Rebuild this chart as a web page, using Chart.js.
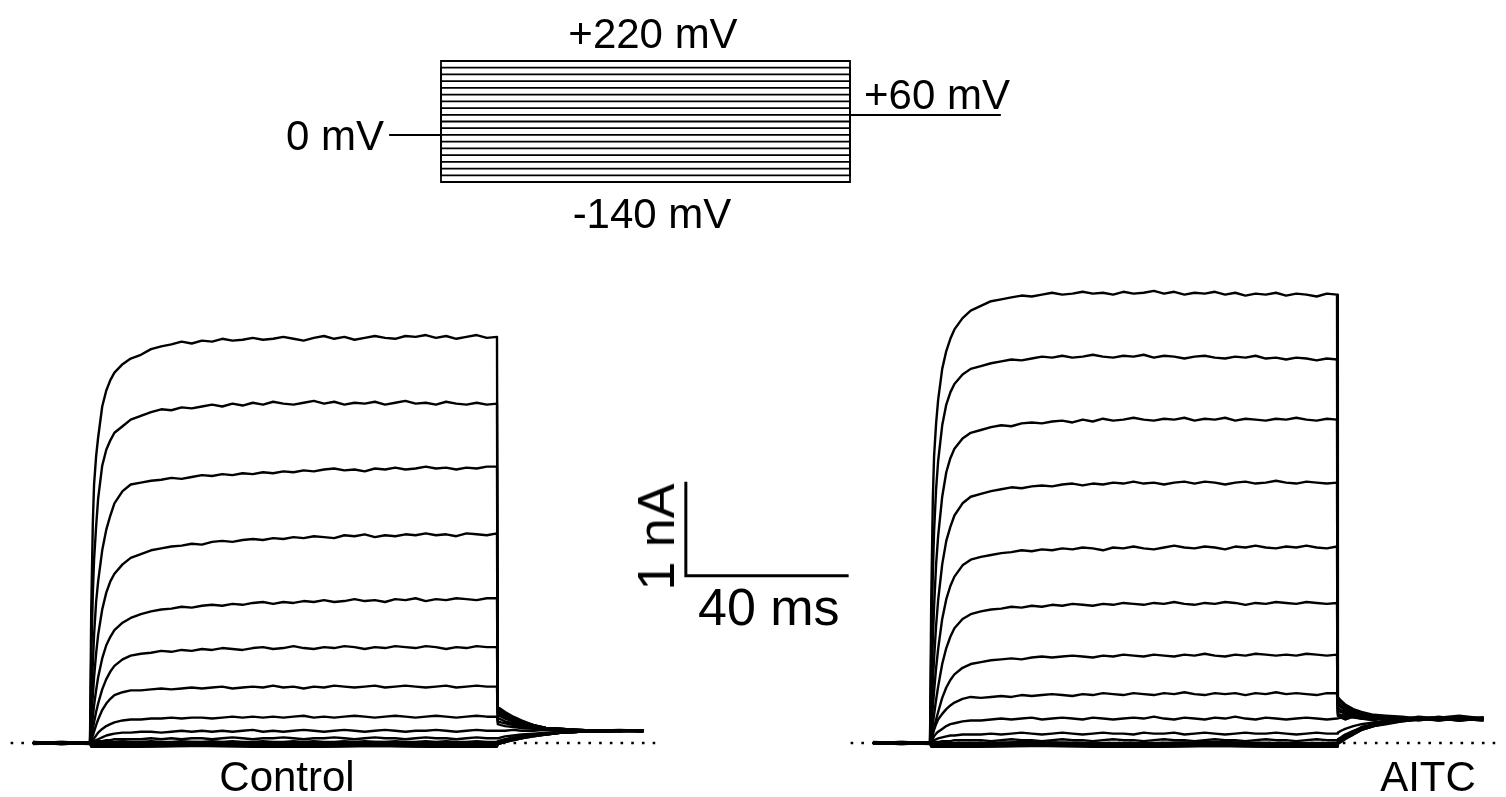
<!DOCTYPE html>
<html>
<head>
<meta charset="utf-8">
<script src="https://cdn.jsdelivr.net/npm/chart.js@4.4.0/dist/chart.umd.min.js"></script>
<style>
  html, body { margin: 0; padding: 0; background: #fff; }
  body { width: 1506px; height: 797px; position: relative; overflow: hidden;
         font-family: "Liberation Sans", Arial, sans-serif; color: #000; }
  canvas { position: absolute; }
  .lbl { position: absolute; white-space: nowrap; line-height: 1; }
</style>
</head>
<body>
<canvas id="protocol" width="640" height="170" style="left:380px;top:40px"></canvas>
<canvas id="control" width="860" height="537" style="left:0px;top:260px"></canvas>
<canvas id="aitc" width="666" height="537" style="left:840px;top:260px"></canvas>

<div class="lbl" id="lblTop" style="font-size:42px;left:653px;top:12.5px;transform:translateX(-50%)"></div>
<div class="lbl" id="lblBottom" style="font-size:42px;left:652px;top:192.5px;transform:translateX(-50%)"></div>
<div class="lbl" id="lblTail" style="font-size:42px;left:864px;top:73.5px"></div>
<div class="lbl" id="lblHold" style="font-size:42px;right:1122px;top:114.5px"></div>
<div class="lbl" id="lblCurrent" style="font-size:52px;left:655.5px;top:536.5px;transform:translate(-50%,-50%) rotate(-90deg)"></div>
<div class="lbl" id="lblTime" style="font-size:52px;left:698px;top:581px"></div>
<div class="lbl" id="lblControl" style="font-size:42px;left:287px;top:755.5px;transform:translateX(-50%)"></div>
<div class="lbl" id="lblAitc" style="font-size:42px;left:1428px;top:755.5px;transform:translateX(-50%)"></div>

<script>
// ---- voltage protocol (mV) ----
const stepMv = [-140, -120, -100, -80, -60, -40, -20, 0, 20, 40, 60, 80, 100, 120, 140, 160, 180, 200, 220];
const holdMv = 0;
const tailMv = 60;
// holding start, step on, step on, step off, step off, sweep end (ms)
const protocolTimeMs = [-12.5, 0, 0, 100, 100, 136.7];

// ---- current sweeps (nA) ----
const sweepTimeMs = [
  -14, -7, 0,
  0.3, 0.7, 1, 1.5, 2, 3, 4, 5, 6, 8, 10,
  12.5, 15, 17.5, 20, 22.5, 25, 27.5, 30, 32.5, 35, 37.5, 40,
  42.5, 45, 47.5, 50, 52.5, 55, 57.5, 60, 62.5, 65, 67.5, 70,
  72.5, 75, 77.5, 80, 82.5, 85, 87.5, 90, 92.5, 95, 97.5, 100,
  100.2, 101, 102, 104, 106, 109, 112, 116, 120, 125, 130, 136
];
const flatTimeMs = [-14, -7, 0, 0.3, 10, 25, 40, 55, 70, 85, 100,
  100.2, 101, 102, 104, 106, 109, 112, 116, 120, 125, 130, 136];

// Control
const ctrlP220 = [0.01, -0.01, 0,
  1.4, 2.35, 2.75, 3.05, 3.25, 3.58, 3.75, 3.86, 3.94, 4.03, 4.09,
  4.13, 4.19, 4.22, 4.24, 4.27, 4.25, 4.28, 4.27, 4.30, 4.28, 4.29, 4.31,
  4.29, 4.30, 4.32, 4.30, 4.28, 4.31, 4.33, 4.30, 4.32, 4.29, 4.31, 4.33,
  4.31, 4.30, 4.33, 4.32, 4.34, 4.31, 4.33, 4.30, 4.32, 4.34, 4.31, 4.32,
  0.38, 0.36, 0.33, 0.28, 0.24, 0.19, 0.16, 0.15, 0.14, 0.13, 0.14, 0.13];
const ctrlP200 = [0, 0.01, 0,
  0.9, 1.6, 1.95, 2.3, 2.6, 2.95, 3.12, 3.22, 3.3, 3.37, 3.44,
  3.48, 3.52, 3.55, 3.54, 3.57, 3.56, 3.58, 3.60, 3.58, 3.61, 3.59, 3.62,
  3.60, 3.63, 3.61, 3.60, 3.62, 3.64, 3.61, 3.63, 3.60, 3.62, 3.61, 3.63,
  3.60, 3.62, 3.64, 3.61, 3.62, 3.60, 3.63, 3.61, 3.60, 3.62, 3.60, 3.61,
  0.36, 0.34, 0.31, 0.27, 0.23, 0.19, 0.16, 0.15, 0.14, 0.13, 0.13, 0.13];
const ctrlP180 = [0, -0.01, 0,
  0.4, 0.85, 1.15, 1.5, 1.72, 2.05, 2.27, 2.42, 2.55, 2.68, 2.75,
  2.77, 2.79, 2.80, 2.82, 2.81, 2.83, 2.85, 2.84, 2.86, 2.85, 2.87, 2.86,
  2.88, 2.87, 2.89, 2.88, 2.90, 2.89, 2.91, 2.92, 2.90, 2.91, 2.89, 2.92,
  2.91, 2.93, 2.91, 2.92, 2.94, 2.92, 2.93, 2.91, 2.93, 2.92, 2.94, 2.94,
  0.34, 0.32, 0.3, 0.26, 0.22, 0.19, 0.16, 0.15, 0.14, 0.13, 0.13, 0.12];
const ctrlP160 = [0, 0, 0.01,
  0.25, 0.5, 0.7, 0.95, 1.15, 1.42, 1.6, 1.72, 1.8, 1.9, 1.97,
  2.01, 2.05, 2.07, 2.09, 2.10, 2.12, 2.11, 2.14, 2.15, 2.14, 2.16, 2.17,
  2.16, 2.18, 2.17, 2.19, 2.18, 2.20, 2.19, 2.18, 2.21, 2.20, 2.22, 2.19,
  2.21, 2.20, 2.22, 2.21, 2.23, 2.21, 2.22, 2.20, 2.23, 2.22, 2.21, 2.23,
  0.32, 0.3, 0.28, 0.24, 0.21, 0.18, 0.16, 0.15, 0.14, 0.13, 0.12, 0.13];
const ctrlP140 = [0, 0.01, 0,
  0.12, 0.28, 0.4, 0.56, 0.7, 0.9, 1.04, 1.13, 1.2, 1.28, 1.33,
  1.37, 1.40, 1.42, 1.43, 1.45, 1.44, 1.46, 1.47, 1.46, 1.48, 1.47, 1.49,
  1.50, 1.48, 1.50, 1.49, 1.51, 1.50, 1.52, 1.50, 1.51, 1.53, 1.51, 1.52,
  1.50, 1.53, 1.52, 1.54, 1.51, 1.53, 1.52, 1.54, 1.53, 1.52, 1.54, 1.54,
  0.29, 0.28, 0.26, 0.23, 0.2, 0.18, 0.16, 0.15, 0.14, 0.13, 0.13, 0.13];
const ctrlP120 = [-0.01, 0, 0,
  0.06, 0.15, 0.22, 0.33, 0.42, 0.57, 0.68, 0.76, 0.82, 0.89, 0.93,
  0.95, 0.96, 0.98, 0.97, 0.99, 0.98, 1.00, 0.99, 1.01, 1.00, 0.99, 1.01,
  1.02, 1.00, 1.01, 1.03, 1.01, 1.00, 1.02, 1.01, 1.03, 1.02, 1.00, 1.02,
  1.01, 1.03, 1.02, 1.01, 1.03, 1.02, 1.00, 1.02, 1.01, 1.03, 1.02, 1.02,
  0.26, 0.25, 0.23, 0.21, 0.19, 0.17, 0.15, 0.14, 0.14, 0.13, 0.13, 0.12];
const ctrlP100 = [0, 0, -0.01,
  0.03, 0.08, 0.12, 0.19, 0.25, 0.35, 0.42, 0.47, 0.51, 0.54, 0.56,
  0.56, 0.57, 0.58, 0.57, 0.58, 0.59, 0.58, 0.59, 0.60, 0.58, 0.59, 0.60,
  0.59, 0.61, 0.59, 0.60, 0.58, 0.60, 0.59, 0.61, 0.60, 0.59, 0.60, 0.61,
  0.59, 0.60, 0.61, 0.60, 0.59, 0.60, 0.61, 0.59, 0.60, 0.61, 0.60, 0.60,
  0.23, 0.22, 0.21, 0.19, 0.17, 0.16, 0.15, 0.14, 0.13, 0.13, 0.13, 0.13];
const ctrlP80 = [0.01, 0, 0,
  0.01, 0.03, 0.05, 0.08, 0.11, 0.15, 0.18, 0.2, 0.22, 0.24, 0.25,
  0.25, 0.26, 0.26, 0.27, 0.26, 0.27, 0.27, 0.26, 0.27, 0.28, 0.27, 0.28,
  0.27, 0.28, 0.27, 0.28, 0.29, 0.27, 0.28, 0.27, 0.28, 0.29, 0.28, 0.27,
  0.28, 0.29, 0.28, 0.27, 0.28, 0.29, 0.28, 0.27, 0.28, 0.29, 0.28, 0.28,
  0.2, 0.19, 0.18, 0.17, 0.16, 0.15, 0.14, 0.14, 0.13, 0.13, 0.13, 0.13];
const ctrlP60 = [0, 0, 0,
  0, 0.01, 0.02, 0.03, 0.04, 0.06, 0.08, 0.09, 0.1, 0.11, 0.11,
  0.12, 0.12, 0.11, 0.12, 0.13, 0.12, 0.13, 0.12, 0.13, 0.12, 0.13, 0.14,
  0.12, 0.13, 0.12, 0.13, 0.14, 0.13, 0.12, 0.13, 0.14, 0.13, 0.12, 0.13,
  0.14, 0.13, 0.12, 0.13, 0.13, 0.14, 0.13, 0.12, 0.13, 0.14, 0.13, 0.13,
  0.13, 0.13, 0.13, 0.14, 0.13, 0.13, 0.14, 0.13, 0.13, 0.12, 0.13, 0.13];
const ctrlP40 = [0, -0.01, 0,
  0, 0, 0.01, 0.01, 0.02, 0.02, 0.03, 0.03, 0.04, 0.04, 0.04,
  0.04, 0.05, 0.04, 0.05, 0.04, 0.05, 0.05, 0.04, 0.05, 0.06, 0.05, 0.04,
  0.05, 0.05, 0.06, 0.05, 0.04, 0.05, 0.05, 0.06, 0.05, 0.04, 0.05, 0.06,
  0.05, 0.05, 0.04, 0.05, 0.06, 0.05, 0.05, 0.04, 0.05, 0.06, 0.05, 0.05,
  0.05, 0.06, 0.07, 0.08, 0.09, 0.1, 0.11, 0.12, 0.12, 0.13, 0.13, 0.13];
const ctrlP20 = [0, 0, 0,
  0, 0, 0, 0, 0.01, 0.01, 0.01, 0.01, 0.01, 0.02, 0.01,
  0.01, 0.02, 0.01, 0.01, 0.02, 0.01, 0.01, 0.02, 0.01, 0.02, 0.01, 0.01,
  0.02, 0.01, 0.01, 0.02, 0.01, 0.02, 0.01, 0.01, 0.02, 0.01, 0.02, 0.01,
  0.01, 0.02, 0.01, 0.01, 0.02, 0.01, 0.02, 0.01, 0.01, 0.02, 0.01, 0.01,
  0.02, 0.03, 0.04, 0.06, 0.07, 0.09, 0.1, 0.11, 0.12, 0.12, 0.13, 0.13];
const ctrlP0   = [0, 0, 0, 0, 0, 0.01, 0, 0, 0.01, 0, 0, 0.01, 0.02, 0.03, 0.05, 0.07, 0.09, 0.1, 0.11, 0.12, 0.13, 0.13, 0.13];
const ctrlM20  = [0, 0, 0, -0.01, -0.01, 0, -0.01, -0.01, 0, -0.01, -0.01, 0.01, 0.02, 0.03, 0.05, 0.07, 0.09, 0.1, 0.11, 0.12, 0.13, 0.13, 0.13];
const ctrlM40  = [0, 0, 0, -0.01, -0.02, -0.01, -0.02, -0.01, -0.02, -0.01, -0.02, 0, 0.01, 0.02, 0.04, 0.06, 0.08, 0.1, 0.11, 0.12, 0.13, 0.13, 0.13];
const ctrlM60  = [0, 0, 0, -0.02, -0.02, -0.01, -0.02, -0.02, -0.01, -0.02, -0.02, 0, 0.01, 0.02, 0.04, 0.06, 0.08, 0.1, 0.11, 0.12, 0.12, 0.13, 0.13];
const ctrlM80  = [0, 0, 0, -0.02, -0.03, -0.02, -0.02, -0.03, -0.02, -0.03, -0.02, -0.01, 0, 0.02, 0.04, 0.06, 0.08, 0.09, 0.11, 0.12, 0.12, 0.13, 0.13];
const ctrlM100 = [0, 0, 0, -0.03, -0.03, -0.02, -0.03, -0.03, -0.02, -0.03, -0.03, -0.01, 0, 0.02, 0.03, 0.05, 0.08, 0.09, 0.11, 0.12, 0.12, 0.13, 0.13];
const ctrlM120 = [0, 0, 0, -0.03, -0.04, -0.03, -0.03, -0.04, -0.03, -0.04, -0.03, -0.01, 0, 0.01, 0.03, 0.05, 0.07, 0.09, 0.11, 0.12, 0.12, 0.13, 0.13];
const ctrlM140 = [0, 0, 0, -0.04, -0.04, -0.03, -0.04, -0.04, -0.03, -0.04, -0.04, -0.01, 0, 0.01, 0.03, 0.05, 0.07, 0.09, 0.11, 0.12, 0.12, 0.13, 0.13];

// AITC
const aitcP220 = [0, 0.01, 0,
  1.5, 2.6, 3.05, 3.4, 3.65, 3.98, 4.17, 4.3, 4.4, 4.52, 4.6,
  4.65, 4.70, 4.72, 4.74, 4.76, 4.75, 4.77, 4.79, 4.77, 4.78, 4.80, 4.78,
  4.79, 4.77, 4.80, 4.78, 4.79, 4.81, 4.78, 4.80, 4.77, 4.79, 4.78, 4.80,
  4.77, 4.79, 4.76, 4.78, 4.77, 4.79, 4.76, 4.78, 4.77, 4.75, 4.78, 4.77,
  0.49, 0.45, 0.41, 0.36, 0.33, 0.3, 0.29, 0.28, 0.26, 0.27, 0.29, 0.26];
const aitcP200 = [0, 0, 0.01,
  1.0, 1.8, 2.25, 2.7, 3.0, 3.38, 3.6, 3.73, 3.82, 3.92, 3.98,
  4.01, 4.04, 4.06, 4.08, 4.07, 4.09, 4.11, 4.10, 4.12, 4.10, 4.11, 4.13,
  4.11, 4.10, 4.12, 4.11, 4.13, 4.10, 4.12, 4.11, 4.09, 4.11, 4.12, 4.10,
  4.09, 4.11, 4.10, 4.12, 4.09, 4.10, 4.08, 4.10, 4.09, 4.07, 4.09, 4.08,
  0.46, 0.43, 0.39, 0.35, 0.31, 0.29, 0.28, 0.27, 0.25, 0.28, 0.25, 0.27];
const aitcP180 = [0, -0.01, 0,
  0.55, 1.1, 1.45, 1.9, 2.2, 2.62, 2.88, 3.03, 3.13, 3.24, 3.3,
  3.33, 3.36, 3.38, 3.37, 3.40, 3.41, 3.40, 3.42, 3.43, 3.41, 3.44, 3.42,
  3.45, 3.43, 3.44, 3.46, 3.44, 3.43, 3.45, 3.44, 3.46, 3.43, 3.45, 3.44,
  3.46, 3.43, 3.45, 3.44, 3.43, 3.45, 3.44, 3.46, 3.44, 3.43, 3.45, 3.44,
  0.43, 0.4, 0.37, 0.33, 0.3, 0.28, 0.27, 0.26, 0.24, 0.27, 0.26, 0.24];
const aitcP160 = [0.01, 0, 0,
  0.3, 0.65, 0.9, 1.25, 1.52, 1.9, 2.15, 2.3, 2.42, 2.55, 2.62,
  2.65, 2.68, 2.70, 2.72, 2.71, 2.73, 2.74, 2.73, 2.75, 2.76, 2.74, 2.76,
  2.75, 2.77, 2.76, 2.78, 2.76, 2.77, 2.75, 2.77, 2.78, 2.76, 2.78, 2.77,
  2.75, 2.77, 2.78, 2.76, 2.77, 2.79, 2.77, 2.76, 2.78, 2.77, 2.76, 2.77,
  0.4, 0.38, 0.35, 0.31, 0.29, 0.27, 0.26, 0.27, 0.25, 0.26, 0.28, 0.26];
const aitcP140 = [0, 0, -0.01,
  0.15, 0.38, 0.55, 0.8, 1.0, 1.32, 1.53, 1.67, 1.77, 1.89, 1.95,
  1.98, 2.00, 2.02, 2.03, 2.05, 2.04, 2.06, 2.05, 2.07, 2.06, 2.08, 2.07,
  2.05, 2.08, 2.07, 2.09, 2.07, 2.06, 2.08, 2.10, 2.08, 2.07, 2.09, 2.08,
  2.06, 2.09, 2.08, 2.10, 2.08, 2.07, 2.09, 2.08, 2.10, 2.08, 2.07, 2.09,
  0.37, 0.35, 0.33, 0.3, 0.28, 0.27, 0.25, 0.26, 0.27, 0.24, 0.26, 0.27];
const aitcP120 = [0, 0.01, 0,
  0.08, 0.2, 0.3, 0.46, 0.6, 0.84, 1.01, 1.13, 1.22, 1.32, 1.37,
  1.40, 1.42, 1.43, 1.45, 1.44, 1.46, 1.45, 1.47, 1.46, 1.48, 1.47, 1.46,
  1.48, 1.47, 1.49, 1.48, 1.47, 1.49, 1.48, 1.50, 1.48, 1.47, 1.49, 1.48,
  1.50, 1.49, 1.47, 1.49, 1.48, 1.50, 1.49, 1.48, 1.50, 1.49, 1.48, 1.49,
  0.34, 0.33, 0.31, 0.29, 0.27, 0.26, 0.27, 0.25, 0.26, 0.27, 0.24, 0.26];
const aitcP100 = [0, 0, 0,
  0.04, 0.1, 0.16, 0.25, 0.33, 0.48, 0.59, 0.67, 0.73, 0.8, 0.84,
  0.86, 0.88, 0.89, 0.90, 0.89, 0.91, 0.92, 0.91, 0.92, 0.93, 0.92, 0.91,
  0.93, 0.92, 0.94, 0.93, 0.92, 0.94, 0.93, 0.92, 0.94, 0.93, 0.95, 0.93,
  0.92, 0.94, 0.93, 0.95, 0.94, 0.93, 0.94, 0.93, 0.95, 0.94, 0.93, 0.94,
  0.31, 0.3, 0.29, 0.27, 0.26, 0.27, 0.25, 0.26, 0.27, 0.25, 0.26, 0.27];
const aitcP80 = [0, -0.01, 0,
  0.04, 0.1, 0.14, 0.2, 0.25, 0.31, 0.36, 0.4, 0.43, 0.47, 0.49,
  0.48, 0.49, 0.50, 0.49, 0.51, 0.50, 0.51, 0.52, 0.51, 0.50, 0.52, 0.51,
  0.53, 0.52, 0.51, 0.53, 0.52, 0.51, 0.53, 0.52, 0.54, 0.52, 0.51, 0.53,
  0.52, 0.53, 0.51, 0.53, 0.52, 0.54, 0.52, 0.53, 0.52, 0.51, 0.53, 0.53,
  0.29, 0.28, 0.27, 0.28, 0.26, 0.25, 0.27, 0.26, 0.25, 0.27, 0.26, 0.25];
const aitcP60 = [0, 0, 0.01,
  0.02, 0.05, 0.07, 0.1, 0.12, 0.15, 0.18, 0.2, 0.21, 0.23, 0.24,
  0.24, 0.25, 0.26, 0.25, 0.26, 0.27, 0.25, 0.26, 0.27, 0.26, 0.25, 0.27,
  0.26, 0.25, 0.26, 0.27, 0.26, 0.28, 0.26, 0.25, 0.27, 0.26, 0.25, 0.27,
  0.26, 0.28, 0.26, 0.25, 0.27, 0.26, 0.25, 0.26, 0.27, 0.26, 0.25, 0.26,
  0.26, 0.27, 0.25, 0.28, 0.26, 0.24, 0.27, 0.25, 0.28, 0.26, 0.24, 0.26];
const aitcP40 = [0, 0, 0,
  0.01, 0.02, 0.03, 0.04, 0.05, 0.06, 0.07, 0.08, 0.08, 0.09, 0.09,
  0.09, 0.10, 0.09, 0.10, 0.11, 0.10, 0.09, 0.10, 0.11, 0.10, 0.09, 0.10,
  0.11, 0.10, 0.10, 0.09, 0.11, 0.10, 0.10, 0.11, 0.09, 0.10, 0.11, 0.10,
  0.09, 0.10, 0.11, 0.10, 0.10, 0.11, 0.10, 0.09, 0.10, 0.11, 0.10, 0.10,
  0.11, 0.13, 0.15, 0.18, 0.2, 0.22, 0.24, 0.25, 0.26, 0.27, 0.25, 0.26];
const aitcP20 = [0, 0, 0,
  0, 0, 0.01, 0.01, 0.01, 0.02, 0.02, 0.02, 0.03, 0.03, 0.03,
  0.03, 0.02, 0.03, 0.04, 0.03, 0.03, 0.02, 0.03, 0.04, 0.03, 0.03, 0.02,
  0.03, 0.04, 0.03, 0.03, 0.02, 0.03, 0.04, 0.03, 0.03, 0.02, 0.03, 0.04,
  0.03, 0.03, 0.02, 0.03, 0.04, 0.03, 0.03, 0.02, 0.03, 0.04, 0.03, 0.03,
  0.04, 0.06, 0.09, 0.13, 0.16, 0.19, 0.22, 0.24, 0.25, 0.26, 0.27, 0.25];
const aitcP0   = [0, 0, 0, 0, 0, 0.01, 0, 0, 0.01, 0, 0, 0.02, 0.04, 0.07, 0.12, 0.17, 0.2, 0.23, 0.25, 0.26, 0.27, 0.25, 0.26];
const aitcM20  = [0, 0, 0, -0.01, -0.01, 0, -0.01, -0.01, 0, -0.01, -0.01, 0.01, 0.04, 0.07, 0.12, 0.16, 0.2, 0.22, 0.24, 0.27, 0.26, 0.25, 0.27];
const aitcM40  = [0, 0, 0, -0.01, -0.02, -0.01, -0.02, -0.01, -0.02, -0.01, -0.02, 0.01, 0.03, 0.06, 0.11, 0.16, 0.19, 0.22, 0.25, 0.26, 0.24, 0.27, 0.26];
const aitcM60  = [0, 0, 0, -0.02, -0.02, -0.01, -0.02, -0.02, -0.01, -0.02, -0.02, 0.01, 0.03, 0.06, 0.11, 0.15, 0.19, 0.22, 0.24, 0.26, 0.27, 0.25, 0.26];
const aitcM80  = [0, 0, 0, -0.02, -0.03, -0.02, -0.02, -0.03, -0.02, -0.03, -0.02, 0, 0.02, 0.05, 0.1, 0.15, 0.19, 0.21, 0.24, 0.25, 0.27, 0.26, 0.24];
const aitcM100 = [0, 0, 0, -0.03, -0.03, -0.02, -0.03, -0.03, -0.02, -0.03, -0.03, 0, 0.02, 0.05, 0.1, 0.14, 0.18, 0.21, 0.24, 0.26, 0.25, 0.27, 0.26];
const aitcM120 = [0, 0, 0, -0.03, -0.04, -0.03, -0.03, -0.04, -0.03, -0.04, -0.03, 0, 0.02, 0.05, 0.09, 0.14, 0.18, 0.21, 0.23, 0.25, 0.26, 0.24, 0.27];
const aitcM140 = [0, 0, 0, -0.04, -0.04, -0.03, -0.04, -0.04, -0.03, -0.04, -0.04, -0.01, 0.01, 0.04, 0.09, 0.14, 0.18, 0.2, 0.23, 0.25, 0.27, 0.26, 0.25];

// zero-current reference line span (ms)
const zeroLineMs = [-19.5, 140];

// scale bar: 1 nA by 40 ms
const scaleBarNa = 1;
const scaleBarMs = 40;
const scaleBarOrigin = { ms: 146.4, na: 1.78 };

// ---- drawing ----
const INK = '#000';

function pts(times, values) {
  return times.map((t, i) => ({ x: t, y: values[i] }));
}

function sweepSet(times, values) {
  return { data: pts(times, values), borderColor: INK, borderWidth: 2.4, borderJoinStyle: 'round' };
}

function zeroLine() {
  return {
    data: pts(zeroLineMs, [0, 0]),
    borderColor: INK, borderWidth: 2.6, borderDash: [2.6, 8.1]
  };
}

function makeChart(id, xRange, yRange, datasets) {
  return new Chart(document.getElementById(id), {
    type: 'line',
    data: { datasets },
    options: {
      responsive: false,
      animation: false,
      devicePixelRatio: 1,
      events: [],
      layout: { padding: 0 },
      plugins: { legend: { display: false }, tooltip: { enabled: false } },
      elements: { point: { radius: 0 }, line: { tension: 0, fill: false } },
      scales: {
        x: { type: 'linear', display: false, min: xRange[0], max: xRange[1] },
        y: { type: 'linear', display: false, min: yRange[0], max: yRange[1] }
      }
    }
  });
}

// protocol
const protocolSets = stepMv.map(v => ({
  data: pts(protocolTimeMs, [holdMv, holdMv, v, v, tailMv, tailMv]),
  borderColor: INK, borderWidth: 1.8
}));
makeChart('protocol', [-14.914, 141.56], [-223.31, 282.48], protocolSets);

// current panels share the same time and current scale
const currentRange = [-0.5745, 5.1383];

const controlSweeps = [ctrlP220, ctrlP200, ctrlP180, ctrlP160, ctrlP140, ctrlP120,
  ctrlP100, ctrlP80, ctrlP60, ctrlP40, ctrlP20];
const controlFlat = [ctrlP0, ctrlM20, ctrlM40, ctrlM60, ctrlM80, ctrlM100, ctrlM120, ctrlM140];
const aitcSweeps = [aitcP220, aitcP200, aitcP180, aitcP160, aitcP140, aitcP120,
  aitcP100, aitcP80, aitcP60, aitcP40, aitcP20];
const aitcFlat = [aitcP0, aitcM20, aitcM40, aitcM60, aitcM80, aitcM100, aitcM120, aitcM140];

const scaleBarSet = {
  data: pts(
    [scaleBarOrigin.ms, scaleBarOrigin.ms, scaleBarOrigin.ms + scaleBarMs],
    [scaleBarOrigin.na + scaleBarNa, scaleBarOrigin.na, scaleBarOrigin.na]),
  borderColor: INK, borderWidth: 3, borderJoinStyle: 'miter'
};

makeChart('control', [-22.113, 189.19], currentRange, [
  zeroLine(),
  ...controlFlat.map(v => sweepSet(flatTimeMs, v)),
  ...controlSweeps.map(v => sweepSet(sweepTimeMs, v)),
  scaleBarSet
]);

makeChart('aitc', [-22.113, 141.52], currentRange, [
  zeroLine(),
  ...aitcFlat.map(v => sweepSet(flatTimeMs, v)),
  ...aitcSweeps.map(v => sweepSet(sweepTimeMs, v))
]);

// ---- labels ----
function mvText(v) { return (v > 0 ? '+' : '') + v + ' mV'; }
document.getElementById('lblTop').textContent = mvText(stepMv[stepMv.length - 1]);
document.getElementById('lblBottom').textContent = mvText(stepMv[0]);
document.getElementById('lblTail').textContent = mvText(tailMv);
document.getElementById('lblHold').textContent = mvText(holdMv);
document.getElementById('lblCurrent').textContent = scaleBarNa + ' nA';
document.getElementById('lblTime').textContent = scaleBarMs + ' ms';
document.getElementById('lblControl').textContent = 'Control';
document.getElementById('lblAitc').textContent = 'AITC';
</script>
</body>
</html>
